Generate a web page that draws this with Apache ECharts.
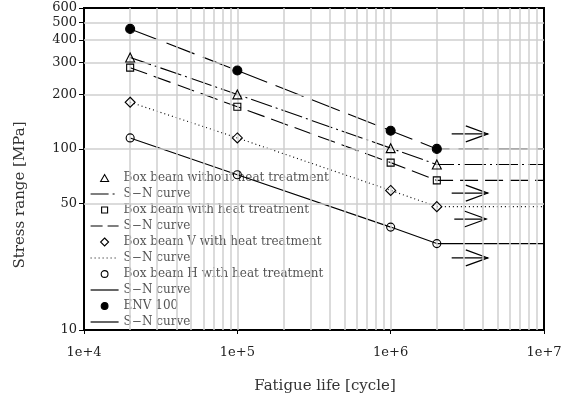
<!DOCTYPE html>
<html>
<head>
<meta charset="utf-8">
<title>S-N curve</title>
<script src="https://cdn.jsdelivr.net/npm/echarts@6/dist/echarts.min.js"></script>
</head>
<body style="margin:0">
<div id="main" style="width:577px;height:400px;"></div>
<script>
// test points (cycles) and the end of the plateau
var cycles = [2e4, 1e5, 1e6, 2e6];
var endCycle = 1e7;
// stress range [MPa]
var withoutHeat = [320, 200, 101, 82];
var withHeat = [281, 171, 84, 67];
var boxV = [181, 115, 59, 48];
var boxH = [115, 72, 37, 30];
var env100 = [460, 271, 126, 100];
// arrows: [tail cycle, tip cycle, stress]
var arrows = [[2.5e6, 4.3e6, 121], [2.5e6, 4.3e6, 57], [2.6e6, 4.2e6, 41], [2.5e6, 4.3e6, 25]];
// gridlines and ticks
var xGrid = [2e4, 3e4, 4e4, 5e4, 6e4, 7e4, 8e4, 9e4, 1e5,
             2e5, 3e5, 4e5, 5e5, 6e5, 7e5, 8e5, 9e5, 1e6,
             2e6, 3e6, 4e6, 5e6, 6e6, 7e6, 8e6, 9e6];
var yGrid = [50, 100, 200, 300, 400, 500];
var yTicks = [10, 50, 100, 200, 300, 400, 500, 600];

var FONT = 'DejaVu Serif';

// legend icons, padded so they come out smaller than the row height
var ICON_TRI = 'path://M0,0M10,10M1,8.5L5,1.5L9,8.5Z';
var ICON_RECT = 'path://M0,0M10,10M2,2L8,2L8,8L2,8Z';
var ICON_DIAM = 'path://M0,0M10,10M5,1L9,5L5,9L1,5Z';
var ICON_CIRC = 'path://M0,0M10,10M1.6,5A3.4,3.4,0,1,1,8.4,5A3.4,3.4,0,1,1,1.6,5Z';

function pts(vals) {
    var d = cycles.map(function (c, i) { return [c, vals[i]]; });
    d.push([endCycle, vals[vals.length - 1]]);
    return d;
}
function marks(vals) {
    return cycles.map(function (c, i) { return [c, vals[i]]; });
}
function scatter(name, vals, symbol, size, fill) {
    return {
        name: name, type: 'scatter', data: marks(vals), z: 5,
        symbol: symbol, symbolSize: size,
        itemStyle: { color: fill, borderColor: '#000', borderWidth: 1.1, opacity: 1 },
        emphasis: { disabled: true }
    };
}
function curve(name, vals, dash) {
    return {
        name: name, type: 'line', data: pts(vals), z: 4,
        symbol: 'none', lineStyle: { color: '#000', width: 1.1, type: dash },
        itemStyle: { color: '#000' },
        emphasis: { disabled: true }
    };
}
function markItem(name, icon, fill) {
    return { name: name, icon: icon, itemStyle: { color: fill, borderColor: '#000', borderWidth: 1.1, opacity: 1 } };
}
function lineItem(name, dash) {
    return { name: name, icon: 'line', itemStyle: { color: 'transparent', borderColor: '#000', borderWidth: 1.2, borderType: dash, opacity: 1 } };
}

var chart = echarts.init(document.getElementById('main'));

var option = {
    animation: false,
    backgroundColor: '#fff',
    grid: { left: 84, right: 33, top: 8, bottom: 70, show: true, borderColor: '#000', borderWidth: 2, backgroundColor: 'transparent' },
    xAxis: {
        type: 'log', logBase: 10, min: 1e4, max: 1e7,
        axisLine: { lineStyle: { color: '#000', width: 2 } },
        axisTick: { show: true, inside: false, length: 4, lineStyle: { color: '#000' } },
        axisLabel: {
            color: '#222', fontFamily: FONT, fontSize: 13, margin: 16,
            formatter: function (v) { return '1e+' + Math.round(Math.log10(v)); }
        },
        splitLine: { show: false },
        minorTick: { show: false }
    },
    yAxis: {
        type: 'log', logBase: 10, min: 10, max: 600,
        axisLine: { show: true, lineStyle: { color: '#000', width: 2 } },
        axisTick: { show: true, inside: false, length: 5, lineStyle: { color: '#000' }, customValues: yTicks },
        axisLabel: { color: '#222', fontFamily: FONT, fontSize: 13, margin: 7, customValues: yTicks },
        splitLine: { show: false }
    },
    legend: {
        orient: 'vertical', left: 90, top: 172, padding: 0,
        itemWidth: 28, itemHeight: 10, itemGap: 4,
        selectedMode: false,
        textStyle: { fontFamily: FONT, fontSize: 12, color: '#555', lineHeight: 12 },
        formatter: function (n) { return n.indexOf('S−N') === 0 ? 'S−N curve' : n; },
        data: [
            markItem('Box beam without heat treatment', ICON_TRI, 'transparent'),
            lineItem('S−N curve 1', [18, 4, 2, 4]),
            markItem('Box beam with heat treatment', ICON_RECT, 'transparent'),
            lineItem('S−N curve 2', [12, 5]),
            markItem('Box beam V with heat treatment', ICON_DIAM, 'transparent'),
            lineItem('S−N curve 3', [1, 3]),
            markItem('Box beam H with heat treatment', ICON_CIRC, 'transparent'),
            lineItem('S−N curve 4', 'solid'),
            markItem('ENV 100', ICON_CIRC, '#000'),
            lineItem('S−N curve 5', 'solid')
        ]
    },
    graphic: [
        { type: 'text', x: 20, y: 195, rotation: Math.PI / 2,
          style: { text: 'Stress range [MPa]', fontFamily: FONT, fontSize: 15, fill: '#333', align: 'center', verticalAlign: 'middle' } },
        { type: 'text', x: 325, y: 386,
          style: { text: 'Fatigue life [cycle]', fontFamily: FONT, fontSize: 15, fill: '#333', align: 'center', verticalAlign: 'middle' } }
    ],
    series: [
        {
            name: 'grid', type: 'line', data: [], z: 1, silent: true,
            markLine: {
                silent: true, symbol: 'none', animation: false,
                label: { show: false },
                lineStyle: { color: '#cfcfcf', width: 1.5, type: 'solid' },
                emphasis: { disabled: true },
                data: xGrid.map(function (v) { return { xAxis: v }; })
                    .concat(yGrid.map(function (v) { return { yAxis: v }; }))
            }
        },
        curve('S−N curve 1', withoutHeat, [22, 4, 2, 4]),
        curve('S−N curve 2', withHeat, [18, 7]),
        curve('S−N curve 3', boxV, [1, 3]),
        curve('S−N curve 4', boxH, 'solid'),
        curve('S−N curve 5', env100, [30, 9]),
        scatter('Box beam without heat treatment', withoutHeat, 'triangle', 9, 'transparent'),
        scatter('Box beam with heat treatment', withHeat, 'rect', 7, 'transparent'),
        scatter('Box beam V with heat treatment', boxV, 'diamond', 10, 'transparent'),
        scatter('Box beam H with heat treatment', boxH, 'circle', 8, 'transparent'),
        scatter('ENV 100', env100, 'circle', 9, '#000'),
        {
            name: 'arrows', type: 'custom', z: 4, silent: true,
            encode: { x: [0, 1], y: 2 },
            data: arrows,
            renderItem: function (params, api) {
                var a = api.coord([api.value(0), api.value(2)]);
                var b = api.coord([api.value(1), api.value(2)]);
                return {
                    type: 'group',
                    children: [
                        { type: 'line', shape: { x1: a[0], y1: a[1], x2: b[0], y2: b[1] },
                          style: { stroke: '#000', lineWidth: 1.2 } },
                        { type: 'polyline', shape: { points: [[b[0] - 22, b[1] - 8], [b[0], b[1]], [b[0] - 22, b[1] + 8]] },
                          style: { stroke: '#000', fill: null, lineWidth: 1.2 } }
                    ]
                };
            }
        }
    ]
};
chart.setOption(option);
</script>
</body>
</html>
